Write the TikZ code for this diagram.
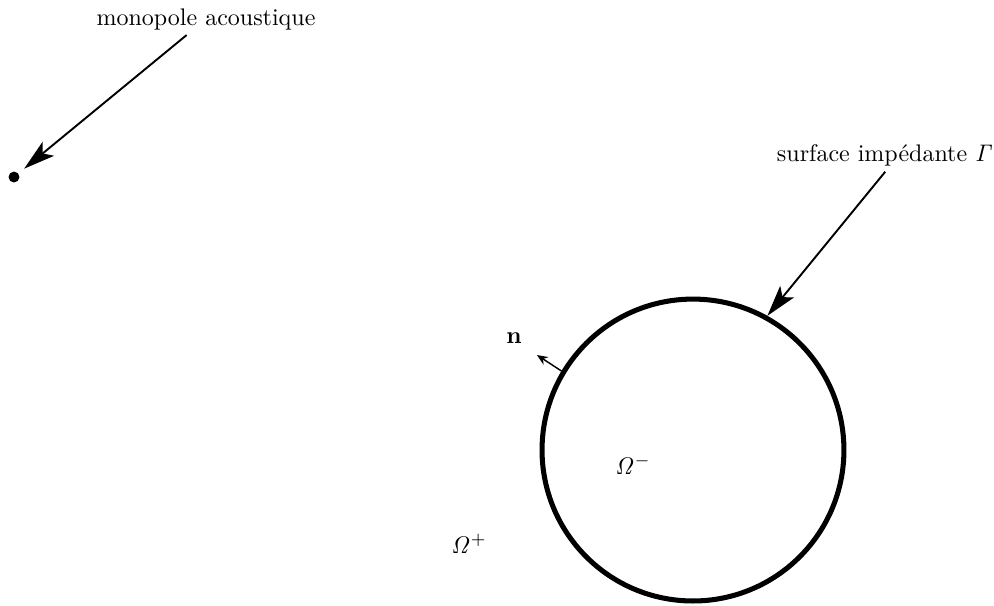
\documentclass[tikz,border=0pt]{standalone}
\usepackage{amsmath}
\usetikzlibrary{arrows.meta,positioning}

\begin{document}
\begin{tikzpicture}[>=Stealth]
  \tikzstyle{lbl}=[inner sep=2pt]
  \tikzstyle{pointer}=[thick,-{Stealth[length=13pt,width=7.5pt,inset=3pt]}]
  \tikzstyle{normal}=[semithick,-{Stealth[length=4.5pt,width=3.8pt,inset=1.5pt]}]
  \useasboundingbox (0,0) rectangle (14.553,-8.858);
  \node[circle,draw,line width=2.1pt,minimum size=4.42cm,inner sep=0] (gamma) at (10.146,-6.589) {};
  \node[circle,fill,inner sep=0,minimum size=0.16cm] (src) at (0.205,-2.592) {};
  \node[lbl] (mono) at (3.016,-0.28) {monopole acoustique};
  \node[lbl] (surf) at (12.96,-2.28) {surface impédante $\mathit{\Gamma}$};
  \node[lbl] (n) at (7.526,-4.949) {$\mathbf{n}$};
  \node[lbl] (omin) at (9.268,-6.808) {$\mathit{\Omega}^-$};
  \node[lbl] (oplus) at (6.867,-7.965) {$\mathit{\Omega}^+$};
  \coordinate (ntip) at (7.862,-5.198);
  \draw[pointer,shorten >=3pt] (mono) -- (src);
  \draw[pointer] (surf.south) -- (gamma.61);
  \draw[normal] (gamma.149) -- (ntip);
\end{tikzpicture}
\end{document}
